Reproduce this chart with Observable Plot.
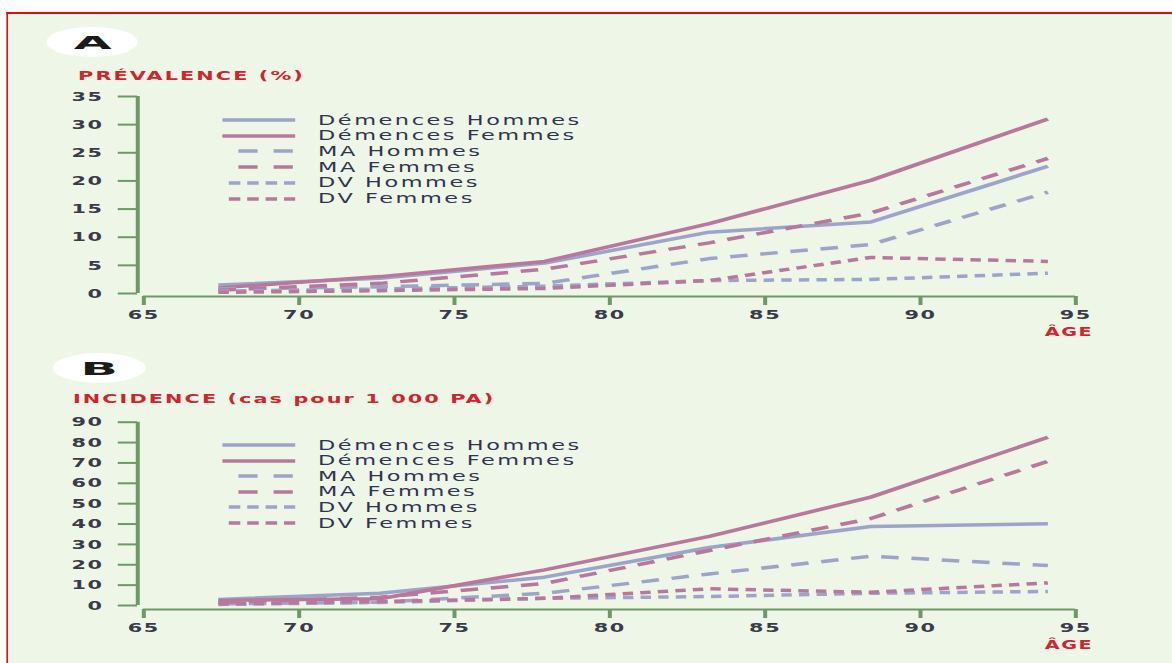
<!DOCTYPE html>
<html>
<head>
<meta charset="utf-8">
<script src="https://cdn.jsdelivr.net/npm/d3@7"></script>
<script src="https://cdn.jsdelivr.net/npm/@observablehq/plot@0.6"></script>
<style>
  html, body { margin: 0; padding: 0; background: #ffffff; overflow: hidden; }
  #root { position: absolute; left: 0; top: 0; width: 732.5px; height: 663px; transform: scaleX(1.6); transform-origin: 0 0; font-family: "DejaVu Sans", sans-serif; }
  #frame { position: absolute; left: 3.75px; top: 12px; width: 800px; height: 700px; background: #eef6e7; border-top: 2px solid #e60a12; border-left: 1.3px solid #e60a12; }
  .abs { position: absolute; white-space: nowrap; }
  .ell { position: absolute; background: #ffffff; border-radius: 50%; }
  .letter { position: absolute; font-weight: 900; font-size: 17px; line-height: 18px; color: #1a1a1a; transform: translateX(-50%) scaleX(1.8); }
  .title { position: absolute; font-weight: bold; font-size: 13px; line-height: 14px; color: #d5232b; letter-spacing: 1.3px; white-space: nowrap; }
  .age { position: absolute; font-weight: bold; font-size: 12px; line-height: 13px; color: #d5232b; letter-spacing: 1px; transform: translateX(-50%); }
  .leg { position: absolute; font-size: 14px; line-height: 14px; color: #2e3452; letter-spacing: 1.6px; white-space: nowrap; }
  svg.plot text { letter-spacing: 1px; }
</style>
</head>
<body>
<div id="root"><div id="frame"></div></div>
<script>
// ---- data ----
const ages = [67.4, 72.6, 77.9, 83.2, 88.4, 94.1];
const seriesNames = ["Démences Hommes", "Démences Femmes", "MA Hommes", "MA Femmes", "DV Hommes", "DV Femmes"];

// Prévalence (%)
const demHommesPrev = [1.5, 2.7, 5.4, 10.9, 12.7, 22.6];
const demFemmesPrev = [1.0, 3.0, 5.7, 12.4, 20.1, 31.0];
const maHommesPrev  = [0.8, 1.2, 1.8, 6.2, 8.7, 18.0];
const maFemmesPrev  = [0.6, 1.8, 4.3, 9.0, 14.3, 24.0];
const dvHommesPrev  = [0.4, 0.8, 1.3, 2.3, 2.5, 3.6];
const dvFemmesPrev  = [0.2, 0.5, 0.9, 2.3, 6.4, 5.7];

// Incidence (cas pour 1 000 PA)
const demHommesInc = [3.0, 6.0, 13.9, 28.5, 38.8, 40.1];
const demFemmesInc = [2.5, 3.3, 17.5, 33.9, 53.2, 82.6];
const maHommesInc  = [0.8, 1.6, 6.0, 15.5, 24.2, 19.6];
const maFemmesInc  = [1.5, 4.1, 10.8, 27.0, 42.7, 70.8];
const dvHommesInc  = [0.5, 1.5, 3.5, 4.4, 6.0, 6.9];
const dvFemmesInc  = [0.8, 2.0, 3.5, 8.2, 6.5, 11.1];

const xTicks = [65, 70, 75, 80, 85, 90, 95];
const yTicksPrev = [0, 5, 10, 15, 20, 25, 30, 35];
const yTicksInc = [0, 10, 20, 30, 40, 50, 60, 70, 80, 90];

// ---- styles ----
const blue = "#9ca4ca";
const pink = "#b8779b";
const axisColor = "#6f9868";
const tickText = "#3a3b4a";
const seriesStyle = [
  {stroke: blue, dash: null,      legDash: null,      legOff: 0,  legX1: 0},
  {stroke: pink, dash: null,      legDash: null,      legOff: 0,  legX1: 0},
  {stroke: blue, dash: "11 8",    legDash: "12 10",   legOff: 12, legX1: 0},
  {stroke: pink, dash: "11 8",    legDash: "12 10",   legOff: 12, legX1: 0},
  {stroke: blue, dash: "6.5 4.5", legDash: "7.2 4.3", legOff: 0,  legX1: 4},
  {stroke: pink, dash: "6.5 4.5", legDash: "7.2 4.3", legOff: 0,  legX1: 4}
];

function rows(arrs) {
  const out = [];
  arrs.forEach((vals, i) => ages.forEach((a, j) => out.push({age: a, value: vals[j], series: seriesNames[i]})));
  return out;
}

const root = document.getElementById("root");

function panel({top, height, mTop, mBottom, yMax, yTicks, arrs, axisDy}) {
  const data = rows(arrs);
  const W = 732.5;
  const chart = Plot.plot({
    width: W, height, marginLeft: 89.4, marginRight: W - 671.9, marginTop: mTop, marginBottom: mBottom,
    x: {domain: [65, 95]},
    y: {domain: [0, yMax]},
    style: {background: "transparent", overflow: "visible", color: tickText, fontFamily: "DejaVu Sans, sans-serif"},
    className: "plot",
    marks: [
      Plot.ruleX([65], {y1: 0, y2: yMax, dx: -3.8, stroke: axisColor, strokeWidth: 2.5}),
      Plot.axisY({ticks: yTicks, tickSize: 12, tickPadding: 9.3, dx: -3.8, label: null, stroke: axisColor, strokeWidth: 2, fill: tickText, fontSize: 13, fontWeight: "bold", tickFormat: d => String(d)}),
      Plot.ruleY([0], {x1: 65, x2: 95, dy: axisDy, stroke: axisColor, strokeWidth: 2}),
      Plot.axisX({ticks: xTicks, tickSize: 9, tickPadding: 4, dy: axisDy, label: null, stroke: axisColor, strokeWidth: 2.5, fill: tickText, fontSize: 13, fontWeight: "bold", tickFormat: d => String(d)}),
      ...seriesNames.map((name, i) => Plot.line(data.filter(d => d.series === name), {
        x: "age", y: "value", stroke: seriesStyle[i].stroke, strokeWidth: 3.5,
        strokeDasharray: seriesStyle[i].dash, strokeLinecap: "butt", strokeLinejoin: "round"
      }))
    ]
  });
  chart.style.position = "absolute";
  chart.style.left = "0px";
  chart.style.top = top + "px";
  root.appendChild(chart);
}

function addDiv(cls, text, left, top) {
  const d = document.createElement("div");
  d.className = cls;
  d.textContent = text;
  d.style.left = left + "px";
  d.style.top = top + "px";
  root.appendChild(d);
  return d;
}

function ellipse(cx, cy, w, h, letter) {
  const e = document.createElement("div");
  e.className = "ell";
  e.style.left = (cx - w / 2) + "px";
  e.style.top = (cy - h / 2) + "px";
  e.style.width = w + "px";
  e.style.height = h + "px";
  root.appendChild(e);
  addDiv("letter", letter, cx, cy - 8);
}

function legend(firstY, step) {
  seriesNames.forEach((name, i) => {
    const cy = firstY + i * step;
    const s = seriesStyle[i];
    const svg = d3.create("svg").attr("width", 47).attr("height", 8)
      .style("position", "absolute").style("left", "139px").style("top", (cy - 4) + "px").style("overflow", "visible");
    svg.append("line").attr("x1", s.legX1).attr("x2", 45.5).attr("y1", 4).attr("y2", 4)
      .attr("stroke", s.stroke).attr("stroke-width", 3.5)
      .attr("stroke-dasharray", s.legDash).attr("stroke-dashoffset", s.legOff);
    root.appendChild(svg.node());
    addDiv("leg", name, 198.75, cy - 7.5);
  });
}

// Panel A
ellipse(57.5, 42, 57.5, 30, "A");
addDiv("title", "PRÉVALENCE (%)", 48.8, 68.5);
panel({top: 80, height: 260, mTop: 16, mBottom: 47, yMax: 35, yTicks: yTicksPrev,
  arrs: [demHommesPrev, demFemmesPrev, maHommesPrev, maFemmesPrev, dvHommesPrev, dvFemmesPrev], axisDy: 3});
legend(120, 15.74);
addDiv("age", "ÂGE", 668.1, 326);

// Panel B
ellipse(61.9, 368, 57.5, 30, "B");
addDiv("title", "INCIDENCE (cas pour 1 000 PA)", 45.6, 392);
panel({top: 405, height: 258, mTop: 16.7, mBottom: 58, yMax: 90, yTicks: yTicksInc,
  arrs: [demHommesInc, demFemmesInc, maHommesInc, maFemmesInc, dvHommesInc, dvFemmesInc], axisDy: 4});
legend(445, 15.6);
addDiv("age", "ÂGE", 668.1, 638.5);
</script>
</body>
</html>
